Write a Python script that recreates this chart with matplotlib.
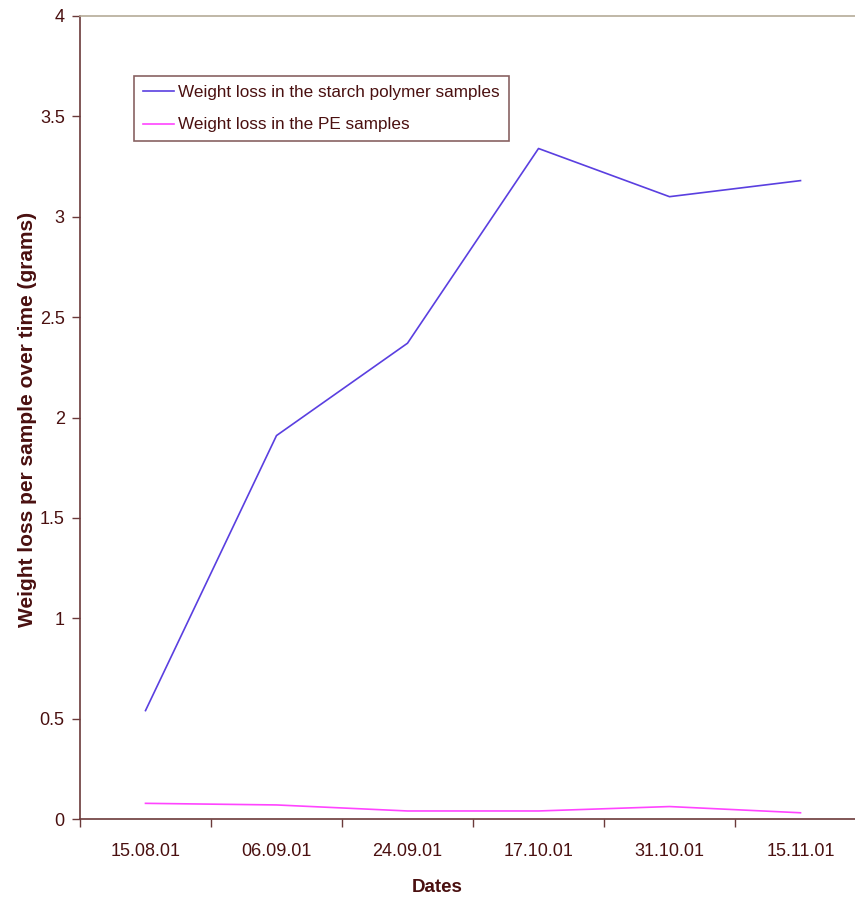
import matplotlib
matplotlib.use("Agg")
import matplotlib.pyplot as plt
import numpy as np

# ─── Data ─────────────────────────────────────────────────────────────────────
dates = ["15.08.01", "06.09.01", "24.09.01", "17.10.01", "31.10.01", "15.11.01"]
starch_loss = [0.54, 1.91, 2.37, 3.34, 3.10, 3.18]
pe_loss = [0.078, 0.07, 0.04, 0.04, 0.062, 0.031]

TXT = "#4a1010"
SPINE = "#6b3a3a"

plt.rcParams["font.family"] = ["Liberation Sans", "DejaVu Sans"]

W, H = 855, 898
fig = plt.figure(figsize=(W / 100, H / 100), dpi=100)
# plot area runs a little past the right edge of the image
ax = fig.add_axes([80 / W, 1 - 819 / H, 786 / W, 803 / H])

x = np.arange(len(dates))
ax.plot(x, starch_loss, color="#5a3fe0", lw=1.2, label="Weight loss in the starch polymer samples")
ax.plot(x, pe_loss, color="#ff44ff", lw=1.2, label="Weight loss in the PE samples")

ax.set_xlim(-0.5, len(dates) - 0.5)
ax.set_ylim(0, 4)
ax.set_yticks(np.arange(0, 4.01, 0.5))
ax.set_yticklabels(["0", "0.5", "1", "1.5", "2", "2.5", "3", "3.5", "4"])

ax.set_xticks(x)
ax.set_xticklabels(dates)
ax.set_xticks(np.arange(-0.5, len(dates), 1), minor=True)
ax.tick_params(axis="x", which="major", length=0, pad=17, labelsize=13, colors=TXT)
ax.tick_params(axis="x", which="minor", length=6, width=1, direction="out", color=SPINE)
ax.tick_params(axis="y", length=6, width=1, direction="out", color=SPINE,
               labelsize=13, labelcolor=TXT, pad=5)

for s in ["left", "bottom"]:
    ax.spines[s].set_color(SPINE)
    ax.spines[s].set_linewidth(1.2)
ax.spines["top"].set_color("#b5ab98")
ax.spines["top"].set_linewidth(1.2)
ax.spines["right"].set_visible(False)

ax.set_xlabel("Dates", fontsize=13.5, fontweight="bold", color=TXT, va="center")
ax.xaxis.set_label_coords((437 - 80) / 786, (819 - 887) / 803)
ax.set_ylabel("Weight loss per sample over time (grams)",
              fontsize=15, fontweight="bold", color=TXT, va="center")
ax.yaxis.set_label_coords((28 - 80) / 786, 0.497)

leg = ax.legend(loc="upper left", bbox_to_anchor=(54 / 786, 1 - 60 / 803),
                fontsize=12.3, frameon=True, fancybox=False, borderpad=0.5,
                handlelength=1.85, handletextpad=0.25, labelspacing=1.05, borderaxespad=0)
leg.get_frame().set_edgecolor(SPINE)
leg.get_frame().set_linewidth(1.2)
for t in leg.get_texts():
    t.set_color(TXT)

fig.savefig("out.png", dpi=100)
